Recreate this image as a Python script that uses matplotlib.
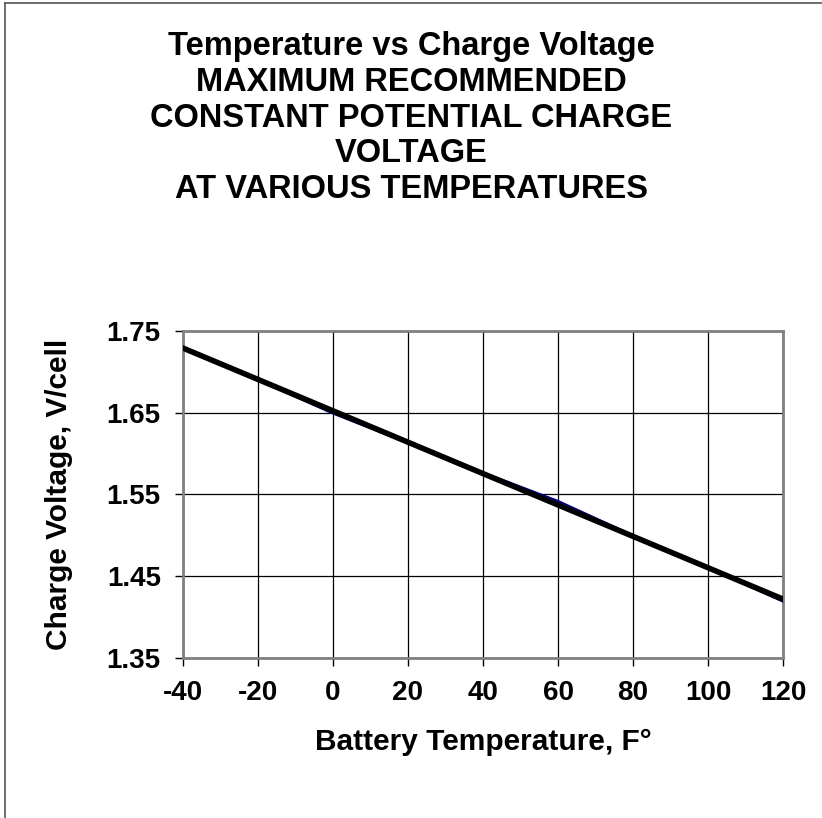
import matplotlib.pyplot as plt
import numpy as np
from matplotlib.lines import Line2D

plt.rcParams['font.family'] = ['Liberation Sans', 'DejaVu Sans']
plt.rcParams['font.weight'] = 'bold'
plt.rcParams['axes.unicode_minus'] = False

# battery temperature (F) vs max recommended charge voltage (V/cell)
temps = [-40, -20, 0, 20, 40, 60, 80, 100, 120]
volts = [1.73, 1.69, 1.649, 1.613, 1.577, 1.542, 1.50, 1.46, 1.419]
x_ticks = [-40, -20, 0, 20, 40, 60, 80, 100, 120]
y_ticks = [1.35, 1.45, 1.55, 1.65, 1.75]
title = ('Temperature vs Charge Voltage\nMAXIMUM RECOMMENDED\n'
         'CONSTANT POTENTIAL CHARGE\nVOLTAGE\nAT VARIOUS TEMPERATURES')

fig = plt.figure(figsize=(8.22, 8.18), dpi=100)
ax = fig.add_axes([0.2226, 0.1956, 0.730, 0.3998])

# linear trendline over the data
coef = np.polyfit(temps, volts, 1)
trend = np.polyval(coef, np.array(temps, dtype=float))

ax.plot(temps, volts, color='#000080', lw=1.6, zorder=3)
ax.plot(temps, trend, color='black', lw=4, zorder=4)

ax.set_xlim(-40, 120)
ax.set_ylim(1.35, 1.75)
ax.set_xticks(x_ticks)
ax.set_yticks(y_ticks)
ax.set_yticklabels([f'{v:.2f}' for v in y_ticks])
ax.grid(True, color='black', lw=0.9)
ax.tick_params(direction='out', length=6, width=1, color='black',
               labelsize=20, pad=10)
for s in ax.spines.values():
    s.set_color('#808080')
    s.set_linewidth(2)

ax.set_xlabel('Battery Temperature, F°', fontsize=21.5, fontweight='bold', labelpad=16)
ax.set_ylabel('Charge Voltage, V/cell', fontsize=21.5, fontweight='bold', labelpad=24)

fig.text(0.5, 0.962, title, ha='center', va='top', fontsize=23.5,
         fontweight='bold', linespacing=1.2)

# outer chart border (left and top edges visible)
fig.add_artist(Line2D([5 / 822, 5 / 822], [0, 1 - 3 / 818], color='#555555', lw=1.2))
fig.add_artist(Line2D([5 / 822, 1], [1 - 3 / 818, 1 - 3 / 818], color='#555555', lw=1.2))

fig.savefig('out.png', dpi=100)
